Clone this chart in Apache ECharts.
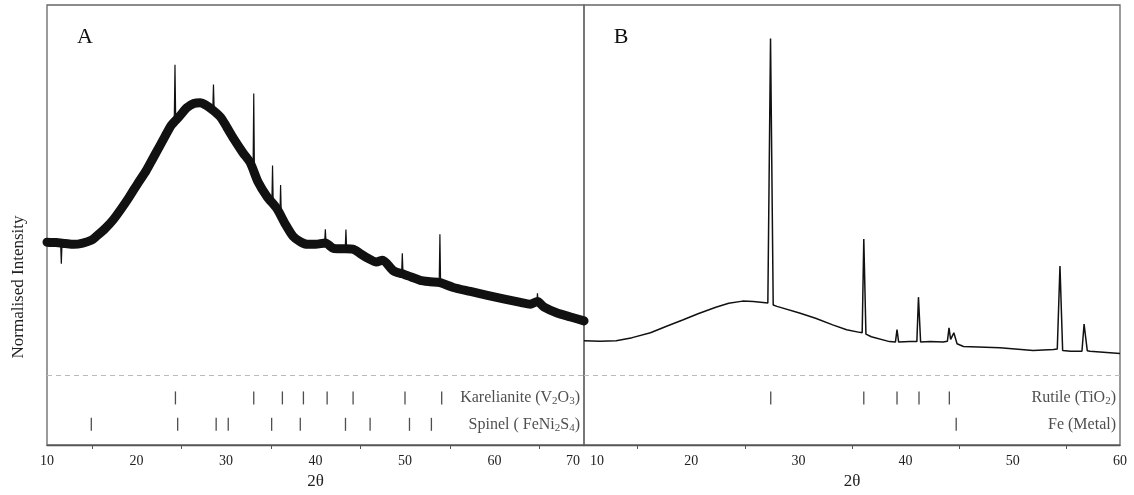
<!DOCTYPE html>
<html><head><meta charset="utf-8">
<script src="https://cdn.jsdelivr.net/npm/echarts@6/dist/echarts.min.js"></script>
<style>html,body{margin:0;padding:0;background:#fff}#c{width:1134px;height:495px}</style>
</head><body><div id="c"></div>
<script>
// ---- Panel A: amorphous pattern (2θ, normalised intensity), centre of the noisy band
const patternA = [
  [10.0,46.1],[11.0,46.0],[12.0,45.8],[13.0,45.6],[14.0,45.9],[15.0,46.6],[15.5,47.4],
  [16.5,49.2],[17.4,51.2],[18.3,53.7],[19.2,56.4],[20.1,59.3],[21.1,62.4],[21.8,65.0],
  [22.5,67.6],[23.2,70.2],[23.9,72.7],[24.8,74.7],[25.6,76.6],[26.4,77.6],[27.1,77.8],
  [27.8,77.2],[28.6,76.0],[29.4,74.5],[30.1,72.2],[30.8,69.8],[31.9,66.4],[32.7,64.2],
  [33.6,59.7],[34.6,56.4],[35.7,53.7],[36.6,50.3],[37.5,47.4],[38.3,46.2],[39.1,45.6],
  [40.0,45.6],[41.1,45.9],[42.0,44.7],[43.0,44.6],[44.2,44.5],[45.0,43.5],[45.8,42.5],
  [46.8,41.6],[47.5,42.0],[48.7,39.6],[49.7,38.9],[50.7,38.2],[51.7,37.4],[52.8,37.1],
  [53.9,36.9],[55.4,35.8],[57.3,34.9],[59.2,34.0],[61.0,33.2],[62.9,32.4],[64.0,32.0],
  [64.8,32.6],[65.5,31.4],[67.0,30.0],[68.5,29.1],[70.0,28.2]
];
// sharp spikes on panel A: [2θ, base, tip]
const spikesA = [
  [11.6,45.9,41.2],[24.3,74.0,86.4],[28.6,76.0,81.9],[33.1,61.5,79.9],[35.2,54.5,63.5],
  [36.1,52.0,59.1],[41.1,45.9,49.0],[43.4,44.6,49.0],[49.7,38.9,43.6],[53.9,36.9,47.9],
  [64.8,32.0,34.5]
];
// ---- Panel B pattern
const patternB = [
  [10.0,23.7],[11.5,23.6],[13.0,23.7],[14.5,24.4],[16.2,25.5],[17.7,27.0],[19.2,28.4],
  [20.7,29.9],[22.3,31.3],[23.5,32.2],[24.8,32.7],[25.8,32.6],[26.7,32.4],[27.15,32.3],
  [27.4,92.4],[27.65,31.8],[28.0,31.5],[30.1,30.0],[31.6,28.8],[33.2,27.3],[34.5,26.2],
  [35.7,25.6],[35.95,25.5],[36.1,46.8],[36.3,25.2],[36.8,24.6],[38.5,23.5],[39.05,23.4],
  [39.2,26.2],[39.35,23.4],[40.4,23.5],[41.05,23.5],[41.2,33.6],[41.4,23.4],[42.3,23.5],
  [43.5,23.4],[43.9,23.6],[44.05,26.6],[44.2,24.0],[44.35,24.0],[44.5,25.5],[44.8,23.0],
  [45.4,22.4],[48.8,22.1],[51.9,21.5],[53.8,21.7],[54.15,21.8],[54.4,40.7],[54.65,21.5],
  [55.4,21.3],[56.45,21.3],[56.65,27.5],[56.8,24.4],[56.95,21.4],[57.2,21.3],[60.0,20.8]
];
// ---- Reference peak positions (2θ)
const karelianite = [24.35,33.1,36.3,38.65,41.3,44.2,50.0,54.1];
const spinel = [14.95,24.6,28.9,30.25,35.1,38.3,43.35,46.1,50.5,52.95];
const rutile = [27.42,36.1,39.2,41.25,44.08];
const feMetal = [44.72];
const xRangeA = [10, 70];
const xRangeB = [10, 60];
const phaseLabelsA = ['Karelianite (V{s|2}O{s|3})', 'Spinel ( FeNi{s|2}S{s|4})'];
const phaseLabelsB = ['Rutile (TiO{s|2})', 'Fe (Metal)'];

// layout levels (in the hidden y scale)
const ROW1 = 10.7, ROW2 = 4.7, DASH = 15.9;
const FONT = '"Liberation Serif", "DejaVu Serif", serif';

const spikeLine = [];
spikesA.forEach(([x, b, t]) => {
  spikeLine.push([x - 0.08, b], [x, t], [x + 0.08, b], [x + 0.09, '-']);
});

function refSeries(xs, level, xi) {
  return { type: 'scatter', xAxisIndex: xi, yAxisIndex: xi, silent: true,
    symbol: 'rect', symbolSize: [1.3, 13], itemStyle: { color: '#222' },
    data: xs.map(x => [x, level]) };
}
function labelSeries(xmax, labels, xi) {
  return { type: 'scatter', xAxisIndex: xi, yAxisIndex: xi, silent: true, symbolSize: 0,
    data: [{ value: [xmax, ROW1], name: labels[0] }, { value: [xmax, ROW2], name: labels[1] }],
    label: { show: true, position: 'left', distance: 4, formatter: '{b}',
      fontFamily: FONT, fontSize: 16, color: '#222',
      rich: { s: { fontFamily: FONT, fontSize: 11, color: '#222', padding: [7, 0, 0, 0] } } } };
}
const dashLine = { silent: true, symbol: 'none', label: { show: false },
  lineStyle: { color: '#bbb', type: [5, 4], width: 1 }, data: [{ yAxis: DASH }] };

const labelBase = { fontFamily: FONT, fontSize: 14, color: '#222', margin: 9,
  rich: { r: { fontFamily: FONT, fontSize: 14, color: '#222', padding: [0, 4, 0, 0] },
          l: { fontFamily: FONT, fontSize: 14, color: '#222', padding: [0, 0, 0, 6] } } };

function xAxis(gi, range, labelExtra) {
  return { type: 'value', gridIndex: gi, min: range[0], max: range[1], interval: 10,
    name: '2θ', nameLocation: 'middle', nameGap: 28,
    nameTextStyle: { fontFamily: FONT, fontSize: 17, color: '#222' },
    axisLine: { lineStyle: { color: '#555', width: 1.3 } },
    axisTick: { show: false },
    minorTick: { show: true, splitNumber: 2, length: 4, lineStyle: { color: '#555' } },
    splitLine: { show: false },
    axisLabel: Object.assign({}, labelBase, labelExtra) };
}

const chart = echarts.init(document.getElementById('c'));
chart.setOption({
  animation: false,
  backgroundColor: '#fff',
  grid: [
    { left: 47, top: 5, width: 537, height: 447, show: true, borderColor: '#666', borderWidth: 1.3 },
    { left: 584, top: 5, width: 536, height: 447, show: true, borderColor: '#666', borderWidth: 1.3 }
  ],
  xAxis: [
    xAxis(0, xRangeA, { alignMaxLabel: 'right',
      formatter: v => v === xRangeA[1] ? '{r|' + v + '}' : String(v) }),
    xAxis(1, xRangeB, { alignMinLabel: 'left',
      formatter: v => v === xRangeB[0] ? '{l|' + v + '}' : String(v) })
  ],
  yAxis: [
    { type: 'value', gridIndex: 0, min: 0, max: 100, show: false },
    { type: 'value', gridIndex: 1, min: 0, max: 100, show: false }
  ],
  graphic: [
    { type: 'text', x: 85, y: 37, style: { text: 'A', fontFamily: FONT, fontSize: 22, fill: '#111', align: 'center', verticalAlign: 'middle' } },
    { type: 'text', x: 621, y: 37, style: { text: 'B', fontFamily: FONT, fontSize: 22, fill: '#111', align: 'center', verticalAlign: 'middle' } },
    { type: 'text', x: 19, y: 287, rotation: Math.PI / 2, style: { text: 'Normalised Intensity', fontFamily: FONT, fontSize: 17, fill: '#222', align: 'center', verticalAlign: 'middle' } }
  ],
  series: [
    { type: 'line', xAxisIndex: 0, yAxisIndex: 0, data: patternA, showSymbol: false, silent: true,
      smooth: 0.25, lineStyle: { color: '#111', width: 9, join: 'round', cap: 'round' },
      markLine: dashLine },
    { type: 'line', xAxisIndex: 0, yAxisIndex: 0, data: spikeLine, showSymbol: false, silent: true,
      connectNulls: false, lineStyle: { color: '#111', width: 1.2 } },
    refSeries(karelianite, ROW1, 0),
    refSeries(spinel, ROW2, 0),
    labelSeries(xRangeA[1], phaseLabelsA, 0),
    { type: 'line', xAxisIndex: 1, yAxisIndex: 1, data: patternB, showSymbol: false, silent: true,
      lineStyle: { color: '#111', width: 1.5 }, markLine: dashLine },
    refSeries(rutile, ROW1, 1),
    refSeries(feMetal, ROW2, 1),
    labelSeries(xRangeB[1], phaseLabelsB, 1)
  ]
});
</script></body></html>
